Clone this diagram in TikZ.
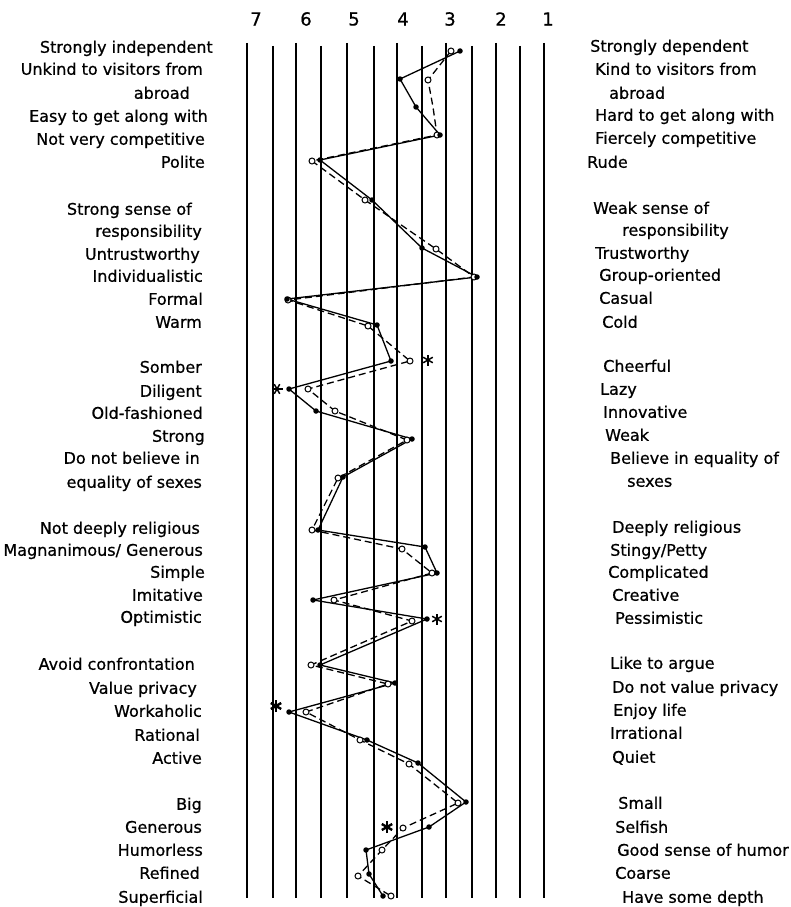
\documentclass[tikz,border=0pt]{standalone}
\usepackage{fontspec}
\setmainfont{DejaVu Sans}
\newfontfamily\labfont{DejaVu Sans}[BoldFont={DejaVu Sans},BoldFeatures={FakeBold=0.7}]

\begin{document}
\begin{tikzpicture}[x=1pt,y=-1pt,
    leftlab/.style={anchor=east,inner sep=0pt,text height=11.5pt,text depth=0pt,font=\labfont\bfseries\fontsize{16}{19}\selectfont},
    rightlab/.style={anchor=west,inner sep=0pt,text height=11.5pt,text depth=0pt,font=\labfont\bfseries\fontsize{16}{19}\selectfont},
    scalenum/.style={inner sep=0pt,font=\labfont\bfseries\fontsize{18}{21}\selectfont},
    majorline/.style={line width=2pt},
    minorline/.style={line width=1.4pt},
    fulldot/.style={circle,fill=black,inner sep=0pt,minimum size=5.5pt},
    opendot/.style={circle,draw=black,fill=white,line width=1pt,inner sep=0pt,minimum size=6pt},
    solidpath/.style={line width=1.3pt,line join=round},
    dashpath/.style={line width=1.3pt,dash pattern=on 7pt off 4pt},
    starmark/.style={line width=1.5pt},
    boldstar/.style={line width=2.4pt}]
    \useasboundingbox (0,0) rectangle (791,907);

    % Scale numbers
    \foreach \n/\x in {7/256,6/306,5/354,4/403,3/450,2/501,1/548}
        \node[scalenum] (num\n) at (\x,19) {\n};

    % Rating lines
    \foreach \x in {247,296,347,397,446,496,544}
        \draw[majorline] (\x,43) -- (\x,898);
    \foreach \x in {273,321,374,422,472,520}
        \draw[minorline] (\x,46) -- (\x,898);

    % Left adjectives
    \foreach \i/\x/\y/\t in {1/213/47/{Strongly independent},2/203/69/{Unkind to visitors from},
        3/190/93/{abroad},4/208/116/{Easy to get along with},5/205/139/{Not very competitive},
        6/205/162/{Polite},7/192/209/{Strong sense of},8/202/231/{responsibility},
        9/200/254/{Untrustworthy},10/203/276/{Individualistic},11/203/299/{Formal},
        12/202/322/{Warm},13/202/367/{Somber},14/202/391/{Diligent},15/203/413/{Old-fashioned},
        16/205/436/{Strong},17/200/458/{Do not believe in},18/202/482/{equality of sexes},
        19/200/528/{Not deeply religious},20/203/550/{Magnanimous/ Generous},21/205/572/{Simple},
        22/203/595/{Imitative},23/202/617/{Optimistic},24/195/664/{Avoid confrontation},
        25/197/688/{Value privacy},26/202/711/{Workaholic},27/200/735/{Rational},
        28/202/758/{Active},29/202/804/{Big},30/202/827/{Generous},31/203/850/{Humorless},
        32/200/873/{Refined},33/203/897/{Superficial}}
        \node[leftlab] (L\i) at (\x,\y) {\t};

    % Right adjectives
    \foreach \i/\x/\y/\t in {1/590/46/{Strongly dependent},2/595/69/{Kind to visitors from},
        3/609/93/{abroad},4/595/115/{Hard to get along with},5/595/138/{Fiercely competitive},
        6/587/162/{Rude},7/593/208/{Weak sense of},8/622/230/{responsibility},
        9/595/253/{Trustworthy},10/599/275/{Group-oriented},11/599/298/{Casual},
        12/602/322/{Cold},13/603/366/{Cheerful},14/600/389/{Lazy},15/603/412/{Innovative},
        16/605/435/{Weak},17/610/458/{Believe in equality of},18/627/481/{sexes},
        19/612/527/{Deeply religious},20/610/550/{Stingy/Petty},21/608/572/{Complicated},
        22/612/595/{Creative},23/615/618/{Pessimistic},24/610/663/{Like to argue},
        25/612/687/{Do not value privacy},26/613/710/{Enjoy life},27/610/733/{Irrational},
        28/612/757/{Quiet},29/618/803/{Small},30/615/827/{Selfish},
        31/617/850/{Good sense of humor},32/615/873/{Coarse},33/622/897/{Have some depth}}
        \node[rightlab] (R\i) at (\x,\y) {\t};

    % Profile points
    \foreach \i/\x/\y in {1/460/51,2/400/79,3/416/107,4/440/135,5/320/160,6/372/200,
        7/422/248,8/477/277,9/287/299,10/377/325,11/391/361,12/289/389,13/316/411,
        14/412/439,15/343/477,16/318/530,17/425/547,18/437/573,19/313/600,20/427/619,
        21/320/665,22/395/683,23/289/712,24/367/740,25/418/763,26/466/802,27/429/827,
        28/366/850,29/369/874,30/383/896}
        \coordinate (s\i) at (\x,\y);
    \foreach \i/\x/\y in {1/451/51,2/428/80,3/433/107,4/437/135,5/312/161,6/365/200,
        7/436/249,8/474/277,9/288/300,10/368/326,11/410/361,12/308/389,13/335/411,
        14/407/440,15/338/478,16/312/530,17/402/549,18/432/573,19/334/600,20/412/621,
        21/311/665,22/388/684,23/306/712,24/360/740,25/409/764,26/458/803,27/403/828,
        28/382/850,29/358/876,30/391/896}
        \coordinate (d\i) at (\x,\y);

    % Profiles
    \draw[dashpath] (d1) \foreach \i in {2,...,30} { -- (d\i) };
    \draw[solidpath] (s1) \foreach \i in {2,...,30} { -- (s\i) };
    \foreach \i in {1,2,4,5,6,7,8,9,10,11,12,13,14,15,16,17,18,19,20,21,22,23,24,25,26,27,28,29,30}
        \node[opendot] (md\i) at (d\i) {};
    \foreach \i in {1,...,30}
        \node[fulldot] (ms\i) at (s\i) {};

    % Asterisks
    \foreach \x/\y/\a in {428/360/90,437/619/90,277/389/0}
        \foreach \r in {0,60,120}
            \draw[starmark] (\x,\y) ++(\a+\r:5.5) -- ++(\a+\r+180:11);
    \foreach \x/\y in {276/706,387/827}
        \foreach \r in {90,150,210}
            \draw[boldstar] (\x,\y) ++(\r:6) -- ++(\r+180:12);
\end{tikzpicture}
\end{document}
